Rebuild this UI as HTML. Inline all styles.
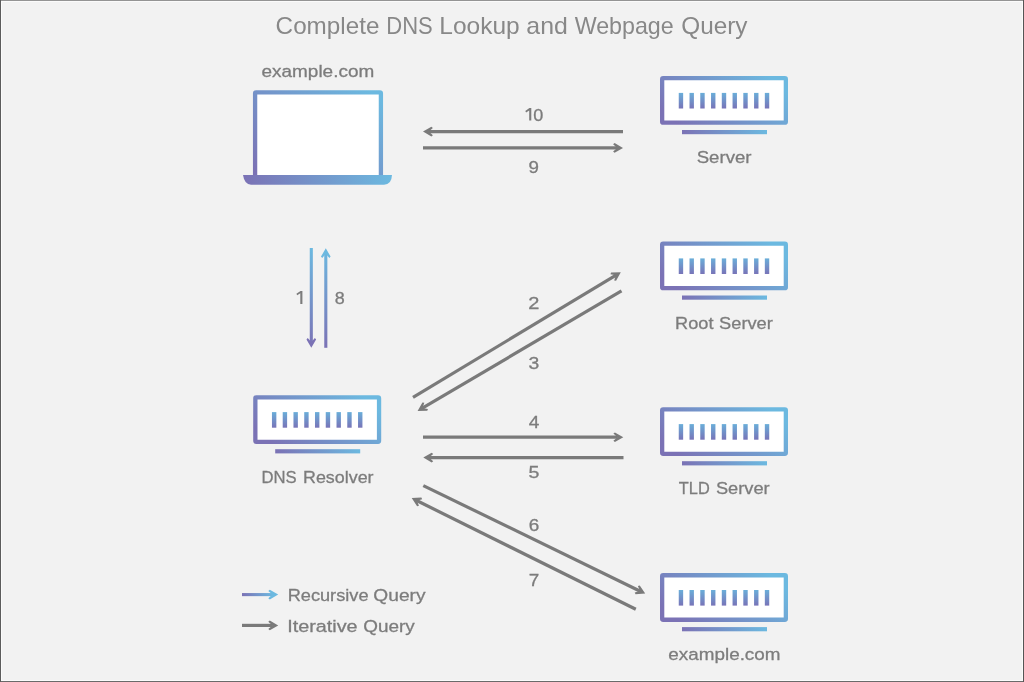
<!DOCTYPE html>
<html><head><meta charset="utf-8"><style>
html,body{margin:0;padding:0;background:#f2f2f2;}
body{width:1024px;height:682px;overflow:hidden;position:relative;}
svg{position:absolute;left:0;top:0;will-change:transform;}
text{font-family:"Liberation Sans",sans-serif;fill:#7c7c7c;stroke:#7c7c7c;stroke-width:0.3px;}
</style></head><body>
<svg width="1024" height="682" viewBox="0 0 1024 682">
<defs>
<linearGradient id="gd" x1="0" y1="0.7" x2="1" y2="0.3"><stop offset="0" stop-color="#7b72b5"/><stop offset="1" stop-color="#6cb9e0"/></linearGradient>
<linearGradient id="gl" x1="0" y1="0.9" x2="1" y2="0.1"><stop offset="0" stop-color="#7b72b5"/><stop offset="1" stop-color="#6cb9e0"/></linearGradient>
<linearGradient id="gh" x1="0" y1="0" x2="1" y2="0"><stop offset="0" stop-color="#7b72b5"/><stop offset="1" stop-color="#6cb9e0"/></linearGradient>
<linearGradient id="gv" x1="0" y1="1" x2="0" y2="0"><stop offset="0" stop-color="#7874b8"/><stop offset="1" stop-color="#6aaed9"/></linearGradient>
<linearGradient id="gvd" gradientUnits="userSpaceOnUse" x1="0" y1="348" x2="0" y2="248"><stop offset="0" stop-color="#7b72b5"/><stop offset="1" stop-color="#6cb9e0"/></linearGradient>
</defs>
<rect x="1" y="1" width="1022" height="1" fill="#fbfbfb"/>
<rect x="1" y="680" width="1022" height="1" fill="#fbfbfb"/>
<rect x="1" y="1" width="1" height="680" fill="#fbfbfb"/>
<rect x="1022" y="1" width="1" height="680" fill="#fbfbfb"/>
<rect x="0" y="0" width="1024" height="1" fill="#949494"/>
<rect x="0" y="681" width="1024" height="1" fill="#6a6a6a"/>
<rect x="0" y="0" width="1" height="682" fill="#5c5c5c"/>
<rect x="1023" y="0" width="1" height="682" fill="#555555"/>


<rect x="255.1" y="92.3" width="125.8" height="86" rx="1" fill="#fff" stroke="url(#gl)" stroke-width="4.3"/>
<path d="M243,175 L392,175 Q391.5,184.7 384,184.7 L251,184.7 Q244.5,184.7 243,175 Z" fill="url(#gh)"/>
<rect x="662.15" y="78.15" width="123.70" height="44.50" rx="1" fill="#fff" stroke="url(#gd)" stroke-width="4.3"/>
<rect x="678.75" y="92.90" width="4.4" height="15.6" fill="url(#gv)"/>
<rect x="689.51" y="92.90" width="4.4" height="15.6" fill="url(#gv)"/>
<rect x="700.27" y="92.90" width="4.4" height="15.6" fill="url(#gv)"/>
<rect x="711.03" y="92.90" width="4.4" height="15.6" fill="url(#gv)"/>
<rect x="721.79" y="92.90" width="4.4" height="15.6" fill="url(#gv)"/>
<rect x="732.55" y="92.90" width="4.4" height="15.6" fill="url(#gv)"/>
<rect x="743.31" y="92.90" width="4.4" height="15.6" fill="url(#gv)"/>
<rect x="754.07" y="92.90" width="4.4" height="15.6" fill="url(#gv)"/>
<rect x="764.83" y="92.90" width="4.4" height="15.6" fill="url(#gv)"/>
<rect x="682.00" y="130.00" width="85" height="4.2" fill="url(#gh)"/>

<rect x="662.15" y="243.65" width="123.70" height="44.50" rx="1" fill="#fff" stroke="url(#gd)" stroke-width="4.3"/>
<rect x="678.75" y="258.40" width="4.4" height="15.6" fill="url(#gv)"/>
<rect x="689.51" y="258.40" width="4.4" height="15.6" fill="url(#gv)"/>
<rect x="700.27" y="258.40" width="4.4" height="15.6" fill="url(#gv)"/>
<rect x="711.03" y="258.40" width="4.4" height="15.6" fill="url(#gv)"/>
<rect x="721.79" y="258.40" width="4.4" height="15.6" fill="url(#gv)"/>
<rect x="732.55" y="258.40" width="4.4" height="15.6" fill="url(#gv)"/>
<rect x="743.31" y="258.40" width="4.4" height="15.6" fill="url(#gv)"/>
<rect x="754.07" y="258.40" width="4.4" height="15.6" fill="url(#gv)"/>
<rect x="764.83" y="258.40" width="4.4" height="15.6" fill="url(#gv)"/>
<rect x="682.00" y="295.50" width="85" height="4.2" fill="url(#gh)"/>

<rect x="662.15" y="409.35" width="123.70" height="44.50" rx="1" fill="#fff" stroke="url(#gd)" stroke-width="4.3"/>
<rect x="678.75" y="424.10" width="4.4" height="15.6" fill="url(#gv)"/>
<rect x="689.51" y="424.10" width="4.4" height="15.6" fill="url(#gv)"/>
<rect x="700.27" y="424.10" width="4.4" height="15.6" fill="url(#gv)"/>
<rect x="711.03" y="424.10" width="4.4" height="15.6" fill="url(#gv)"/>
<rect x="721.79" y="424.10" width="4.4" height="15.6" fill="url(#gv)"/>
<rect x="732.55" y="424.10" width="4.4" height="15.6" fill="url(#gv)"/>
<rect x="743.31" y="424.10" width="4.4" height="15.6" fill="url(#gv)"/>
<rect x="754.07" y="424.10" width="4.4" height="15.6" fill="url(#gv)"/>
<rect x="764.83" y="424.10" width="4.4" height="15.6" fill="url(#gv)"/>
<rect x="682.00" y="461.20" width="85" height="4.2" fill="url(#gh)"/>

<rect x="662.15" y="575.25" width="123.70" height="44.50" rx="1" fill="#fff" stroke="url(#gd)" stroke-width="4.3"/>
<rect x="678.75" y="590.00" width="4.4" height="15.6" fill="url(#gv)"/>
<rect x="689.51" y="590.00" width="4.4" height="15.6" fill="url(#gv)"/>
<rect x="700.27" y="590.00" width="4.4" height="15.6" fill="url(#gv)"/>
<rect x="711.03" y="590.00" width="4.4" height="15.6" fill="url(#gv)"/>
<rect x="721.79" y="590.00" width="4.4" height="15.6" fill="url(#gv)"/>
<rect x="732.55" y="590.00" width="4.4" height="15.6" fill="url(#gv)"/>
<rect x="743.31" y="590.00" width="4.4" height="15.6" fill="url(#gv)"/>
<rect x="754.07" y="590.00" width="4.4" height="15.6" fill="url(#gv)"/>
<rect x="764.83" y="590.00" width="4.4" height="15.6" fill="url(#gv)"/>
<rect x="682.00" y="627.10" width="85" height="4.2" fill="url(#gh)"/>

<rect x="255.35" y="397.35" width="123.70" height="44.50" rx="1" fill="#fff" stroke="url(#gd)" stroke-width="4.3"/>
<rect x="271.95" y="412.10" width="4.4" height="15.6" fill="url(#gv)"/>
<rect x="282.71" y="412.10" width="4.4" height="15.6" fill="url(#gv)"/>
<rect x="293.47" y="412.10" width="4.4" height="15.6" fill="url(#gv)"/>
<rect x="304.23" y="412.10" width="4.4" height="15.6" fill="url(#gv)"/>
<rect x="314.99" y="412.10" width="4.4" height="15.6" fill="url(#gv)"/>
<rect x="325.75" y="412.10" width="4.4" height="15.6" fill="url(#gv)"/>
<rect x="336.51" y="412.10" width="4.4" height="15.6" fill="url(#gv)"/>
<rect x="347.27" y="412.10" width="4.4" height="15.6" fill="url(#gv)"/>
<rect x="358.03" y="412.10" width="4.4" height="15.6" fill="url(#gv)"/>
<rect x="275.20" y="449.20" width="85" height="4.2" fill="url(#gh)"/>

<line x1="623.00" y1="131.60" x2="428.50" y2="131.60" stroke="#7a7a7a" stroke-width="3.2"/><polygon transform="translate(423.00,131.60) rotate(180.00)" points="0,0 -8.4,-4.8 -9.9,-3.6 -5.8,0 -9.9,3.6 -8.4,4.8" fill="#7a7a7a"/>
<line x1="423.00" y1="147.90" x2="617.50" y2="147.90" stroke="#7a7a7a" stroke-width="3.2"/><polygon transform="translate(623.00,147.90) rotate(0.00)" points="0,0 -8.4,-4.8 -9.9,-3.6 -5.8,0 -9.9,3.6 -8.4,4.8" fill="#7a7a7a"/>


<line x1="413.00" y1="397.40" x2="616.09" y2="275.14" stroke="#7a7a7a" stroke-width="3.2"/><polygon transform="translate(620.80,272.30) rotate(-31.05)" points="0,0 -8.4,-4.8 -9.9,-3.6 -5.8,0 -9.9,3.6 -8.4,4.8" fill="#7a7a7a"/>
<line x1="621.50" y1="290.80" x2="422.34" y2="408.21" stroke="#7a7a7a" stroke-width="3.2"/><polygon transform="translate(417.60,411.00) rotate(149.48)" points="0,0 -8.4,-4.8 -9.9,-3.6 -5.8,0 -9.9,3.6 -8.4,4.8" fill="#7a7a7a"/>


<line x1="423.00" y1="437.20" x2="617.80" y2="437.20" stroke="#7a7a7a" stroke-width="3.2"/><polygon transform="translate(623.30,437.20) rotate(0.00)" points="0,0 -8.4,-4.8 -9.9,-3.6 -5.8,0 -9.9,3.6 -8.4,4.8" fill="#7a7a7a"/>
<line x1="623.50" y1="457.60" x2="428.80" y2="457.60" stroke="#7a7a7a" stroke-width="3.2"/><polygon transform="translate(423.30,457.60) rotate(180.00)" points="0,0 -8.4,-4.8 -9.9,-3.6 -5.8,0 -9.9,3.6 -8.4,4.8" fill="#7a7a7a"/>


<line x1="423.30" y1="485.60" x2="640.25" y2="591.19" stroke="#7a7a7a" stroke-width="3.2"/><polygon transform="translate(645.20,593.60) rotate(25.95)" points="0,0 -8.4,-4.8 -9.9,-3.6 -5.8,0 -9.9,3.6 -8.4,4.8" fill="#7a7a7a"/>
<line x1="635.80" y1="609.30" x2="416.63" y2="500.54" stroke="#7a7a7a" stroke-width="3.2"/><polygon transform="translate(411.70,498.10) rotate(-153.61)" points="0,0 -8.4,-4.8 -9.9,-3.6 -5.8,0 -9.9,3.6 -8.4,4.8" fill="#7a7a7a"/>


<line x1="311.3" y1="248" x2="311.3" y2="342" stroke="url(#gvd)" stroke-width="3.1"/>
<polygon transform="translate(311.3,347.8) rotate(90)" points="0,0 -8.4,-4.8 -9.9,-3.6 -5.8,0 -9.9,3.6 -8.4,4.8" fill="#7b72b5"/>
<line x1="325.8" y1="254" x2="325.8" y2="347.8" stroke="url(#gvd)" stroke-width="3.1"/>
<polygon transform="translate(325.8,248.2) rotate(-90)" points="0,0 -8.4,-4.8 -9.9,-3.6 -5.8,0 -9.9,3.6 -8.4,4.8" fill="#6cb9e0"/>


<rect x="242" y="593.05" width="31" height="3.1" fill="url(#gh)"/>
<polygon transform="translate(278.2,594.6)" points="0,0 -8.4,-4.8 -9.9,-3.6 -5.8,0 -9.9,3.6 -8.4,4.8" fill="#6cb9e0"/>
<line x1="242.00" y1="625.40" x2="272.70" y2="625.40" stroke="#7a7a7a" stroke-width="3.2"/><polygon transform="translate(278.20,625.40) rotate(0.00)" points="0,0 -8.4,-4.8 -9.9,-3.6 -5.8,0 -9.9,3.6 -8.4,4.8" fill="#7a7a7a"/>


<text x="261.56" y="77.10" font-size="17.4" textLength="112.65" lengthAdjust="spacingAndGlyphs">example.com</text>
<text x="696.70" y="163.10" font-size="17.4" textLength="54.85" lengthAdjust="spacingAndGlyphs">Server</text>
<text x="668.36" y="660.40" font-size="17.4" textLength="112.14" lengthAdjust="spacingAndGlyphs">example.com</text>
<text x="533.37" y="120.50" font-size="17" textLength="10.03" lengthAdjust="spacingAndGlyphs">0</text>
<text x="528.57" y="173.00" font-size="17" textLength="10.42" lengthAdjust="spacingAndGlyphs">9</text>
<text x="528.32" y="309.40" font-size="17" textLength="11.13" lengthAdjust="spacingAndGlyphs">2</text>
<text x="528.63" y="368.80" font-size="17" textLength="10.79" lengthAdjust="spacingAndGlyphs">3</text>
<text x="528.72" y="427.90" font-size="17" textLength="10.60" lengthAdjust="spacingAndGlyphs">4</text>
<text x="528.42" y="477.80" font-size="17" textLength="10.92" lengthAdjust="spacingAndGlyphs">5</text>
<text x="528.67" y="531.40" font-size="17" textLength="10.53" lengthAdjust="spacingAndGlyphs">6</text>
<text x="528.67" y="585.50" font-size="17" textLength="10.53" lengthAdjust="spacingAndGlyphs">7</text>
<text x="334.67" y="303.90" font-size="17" textLength="9.99" lengthAdjust="spacingAndGlyphs">8</text>
<text x="275.64" y="33.70" font-size="24" textLength="103.74" lengthAdjust="spacingAndGlyphs" style="stroke-width:0;fill:#888888">Complete</text>
<text x="386.27" y="33.70" font-size="24" textLength="46.40" lengthAdjust="spacingAndGlyphs" style="stroke-width:0;fill:#888888">DNS</text>
<text x="439.36" y="33.70" font-size="24" textLength="80.36" lengthAdjust="spacingAndGlyphs" style="stroke-width:0;fill:#888888">Lookup</text>
<text x="526.37" y="33.70" font-size="24" textLength="41.44" lengthAdjust="spacingAndGlyphs" style="stroke-width:0;fill:#888888">and</text>
<text x="574.66" y="33.70" font-size="24" textLength="99.07" lengthAdjust="spacingAndGlyphs" style="stroke-width:0;fill:#888888">Webpage</text>
<text x="681.23" y="33.70" font-size="24" textLength="66.28" lengthAdjust="spacingAndGlyphs" style="stroke-width:0;fill:#888888">Query</text>
<text x="675.09" y="328.80" font-size="17.4" textLength="38.39" lengthAdjust="spacingAndGlyphs">Root</text>
<text x="719.11" y="328.80" font-size="17.4" textLength="53.73" lengthAdjust="spacingAndGlyphs">Server</text>
<text x="678.86" y="494.30" font-size="17.4" textLength="30.91" lengthAdjust="spacingAndGlyphs">TLD</text>
<text x="715.91" y="494.30" font-size="17.4" textLength="53.73" lengthAdjust="spacingAndGlyphs">Server</text>
<text x="261.40" y="482.60" font-size="17.4" textLength="35.19" lengthAdjust="spacingAndGlyphs">DNS</text>
<text x="303.02" y="482.60" font-size="17.4" textLength="70.51" lengthAdjust="spacingAndGlyphs">Resolver</text>
<text x="287.69" y="600.90" font-size="17.4" textLength="80.81" lengthAdjust="spacingAndGlyphs">Recursive</text>
<text x="373.37" y="600.90" font-size="17.4" textLength="52.17" lengthAdjust="spacingAndGlyphs">Query</text>
<text x="287.30" y="631.60" font-size="17.4" textLength="70.31" lengthAdjust="spacingAndGlyphs">Iterative</text>
<text x="363.19" y="631.60" font-size="17.4" textLength="51.46" lengthAdjust="spacingAndGlyphs">Query</text>
<path d="M529.20,120.60 L531.30,120.60 L531.30,108.10 L529.40,108.10 L525.30,111.00 L526.10,112.50 L529.20,110.40 Z" fill="#7c7c7c"/>
<path d="M300.30,303.90 L302.40,303.90 L302.40,290.90 L300.50,290.90 L296.40,293.80 L297.20,295.30 L300.30,293.20 Z" fill="#7c7c7c"/>
</svg>
</body></html>
